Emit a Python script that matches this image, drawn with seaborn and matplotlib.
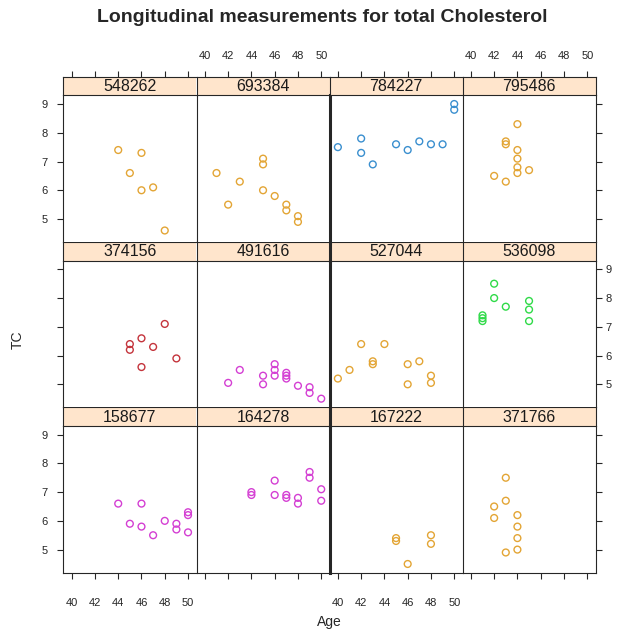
import matplotlib
matplotlib.use("Agg")
import matplotlib.pyplot as plt
import seaborn as sns
import pandas as pd

sns.set_style("white")
plt.rcParams["font.family"] = ["Liberation Sans", "DejaVu Sans"]

# Subjects and their repeated (Age, TC) measurements
subjects = ["548262", "693384", "784227", "795486",
            "374156", "491616", "527044", "536098",
            "158677", "164278", "167222", "371766"]
groups = ["a", "a", "b", "a",
          "c", "d", "a", "e",
          "d", "d", "a", "a"]

age_548262 = [44, 46, 45, 46, 47, 48]
tc_548262 = [7.4, 7.3, 6.6, 6.0, 6.1, 4.6]
age_693384 = [41, 42, 43, 45, 45, 45, 46, 47, 47, 48, 48]
tc_693384 = [6.6, 5.5, 6.3, 7.1, 6.9, 6.0, 5.8, 5.5, 5.3, 5.1, 4.9]
age_784227 = [40, 42, 42, 43, 45, 46, 47, 48, 49, 50, 50]
tc_784227 = [7.5, 7.8, 7.3, 6.9, 7.6, 7.4, 7.7, 7.6, 7.6, 9.0, 8.8]
age_795486 = [44, 43, 43, 44, 44, 44, 44, 45, 42, 43]
tc_795486 = [8.3, 7.7, 7.6, 7.4, 7.1, 6.8, 6.6, 6.7, 6.5, 6.3]
age_374156 = [48, 46, 45, 45, 47, 49, 46]
tc_374156 = [7.1, 6.6, 6.4, 6.2, 6.3, 5.9, 5.6]
age_491616 = [42, 43, 45, 45, 46, 46, 46, 47, 47, 47, 48, 49, 49, 50]
tc_491616 = [5.05, 5.5, 5.3, 5.0, 5.7, 5.5, 5.3, 5.4, 5.3, 5.2, 4.95, 4.9, 4.7, 4.5]
age_527044 = [40, 41, 42, 43, 43, 44, 46, 46, 47, 48, 48]
tc_527044 = [5.2, 5.5, 6.4, 5.8, 5.7, 6.4, 5.7, 5.0, 5.8, 5.3, 5.05]
age_536098 = [42, 42, 43, 45, 45, 45, 41, 41, 41]
tc_536098 = [8.5, 8.0, 7.7, 7.9, 7.6, 7.2, 7.4, 7.3, 7.2]
age_158677 = [44, 46, 45, 46, 47, 48, 49, 49, 50, 50, 50]
tc_158677 = [6.6, 6.6, 5.9, 5.8, 5.5, 6.0, 5.9, 5.7, 6.3, 6.2, 5.6]
age_164278 = [44, 44, 46, 46, 47, 47, 48, 48, 49, 49, 50, 50]
tc_164278 = [7.0, 6.9, 7.4, 6.9, 6.9, 6.8, 6.8, 6.6, 7.7, 7.5, 7.1, 6.7]
age_167222 = [45, 45, 46, 48, 48]
tc_167222 = [5.4, 5.3, 4.5, 5.5, 5.2]
age_371766 = [43, 43, 42, 42, 44, 44, 44, 44, 43]
tc_371766 = [7.5, 6.7, 6.5, 6.1, 6.2, 5.8, 5.4, 5.0, 4.9]

x_ticks = [40, 42, 44, 46, 48, 50]
y_ticks = [5, 6, 7, 8, 9]

ages = {s: globals()["age_" + s] for s in subjects}
tcs = {s: globals()["tc_" + s] for s in subjects}
rows = []
for s, g in zip(subjects, groups):
    for a, t in zip(ages[s], tcs[s]):
        rows.append({"id": s, "group": g, "Age": a, "TC": t})
df = pd.DataFrame(rows)

palette = {"a": "#E3A535", "b": "#3A8FCF", "c": "#C4343C",
           "d": "#D43FD3", "e": "#2FDA48"}

W, H = 624, 631
fig = plt.figure(figsize=(W / 100, H / 100), dpi=100)
fig.patch.set_facecolor("white")

col_left = [63.3, 196.5, 329.5, 462.5]
pw = 133.1
row_top = [76.7, 242.0, 407.3]
strip_h = 18.7
panel_h = 146.6
xlim = (39.28, 50.72)
ylim = (4.2, 9.3)
edge = "#262626"
tick_fs = 8

# panels are laid out from the bottom-left upward, in ascending id order
ordered = sorted(subjects, key=int)
for i, s in enumerate(ordered):
    r = 2 - i // 4
    c = i % 4
    left = col_left[c]
    top = row_top[r]
    ax = fig.add_axes([left / W, 1 - (top + strip_h + panel_h) / H,
                       pw / W, panel_h / H])
    st = fig.add_axes([left / W, 1 - (top + strip_h) / H,
                       pw / W, strip_h / H])

    sub = df[df["id"] == s]
    sns.scatterplot(data=sub, x="Age", y="TC", hue="group", palette=palette,
                    ax=ax, legend=False, marker="o", s=24,
                    facecolors="none", linewidth=1.0)
    # hollow markers: edge colour from the group palette
    for coll in ax.collections:
        fc = coll.get_facecolors()
        coll.set_edgecolors(fc)
        coll.set_facecolors("none")

    ax.set_xlim(*xlim)
    ax.set_ylim(*ylim)
    ax.set_xlabel("")
    ax.set_ylabel("")
    ax.set_xticks(x_ticks)
    ax.set_yticks(y_ticks)
    ax.tick_params(axis="both", which="both", direction="out", length=4.3,
                   width=0.8, color=edge, labelsize=tick_fs,
                   bottom=False, top=False, left=False, right=False,
                   labelbottom=False, labeltop=False,
                   labelleft=False, labelright=False)
    # y axis ticks on the outer columns, labels alternating by row
    if c == 0:
        ax.tick_params(axis="y", left=True, pad=7,
                       labelleft=(r != 1))
    if c == 3:
        ax.tick_params(axis="y", right=True, pad=3,
                       labelright=(r == 1))
    # x axis ticks on the bottom row, labels on alternate columns
    if r == 2:
        ax.tick_params(axis="x", bottom=True, pad=14,
                       labelbottom=(c % 2 == 0))
    for sp in ax.spines.values():
        sp.set_color(edge)
        sp.set_linewidth(0.8)
        sp.set_visible(True)
    # shared borders are drawn once, by the neighbouring panel
    if c < 3:
        ax.spines["right"].set_visible(False)
    ax.spines["top"].set_visible(False)
    if r < 2:
        ax.spines["bottom"].set_visible(False)

    st.set_facecolor("#FFE5CC")
    st.set_xlim(*xlim)
    st.set_ylim(0, 1)
    st.set_yticks([])
    st.set_xticks(x_ticks)
    st.tick_params(axis="x", direction="out", length=4.3, width=0.8,
                   color=edge, labelsize=tick_fs, bottom=False,
                   labelbottom=False, top=(r == 0), pad=7,
                   labeltop=(r == 0 and c % 2 == 1))
    for sp in st.spines.values():
        sp.set_color(edge)
        sp.set_linewidth(0.8)
        sp.set_visible(True)
    if c < 3:
        st.spines["right"].set_visible(False)
    st.text(0.5, 0.47, s, transform=st.transAxes, ha="center", va="center",
            fontsize=11.5, color="#1a1a1a")

    if c == 2:
        ax.spines["left"].set_linewidth(2.2)
        if r > 0:
            st.spines["left"].set_linewidth(2.2)

fig.text(322 / W, 1 - 18 / H, "Longitudinal measurements for total Cholesterol",
         ha="center", va="center", fontsize=14, fontweight="bold")
fig.text(329 / W, 1 - 622 / H, "Age", ha="center", va="center", fontsize=10)
fig.text(18 / W, 1 - 340 / H, "TC", ha="center", va="center", fontsize=10,
         rotation=90)

fig.savefig("out.png", dpi=100, facecolor="white")
